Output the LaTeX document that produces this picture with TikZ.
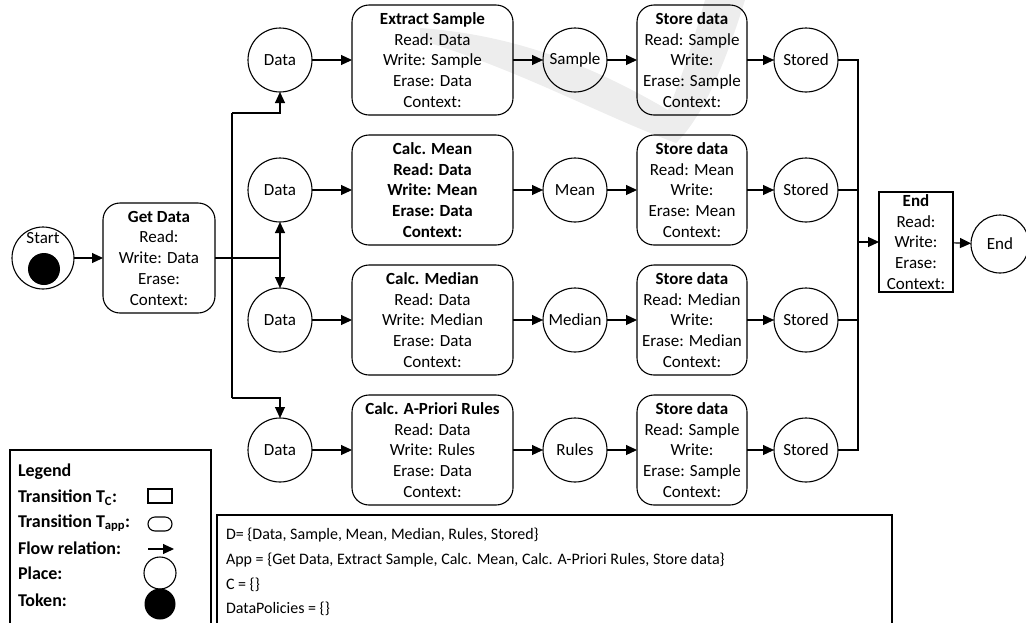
\documentclass[tikz,border=0pt]{standalone}
\usepackage{fontspec}
\setmainfont{Carlito}
\usetikzlibrary{arrows.meta}
\begin{document}
\begin{tikzpicture}[x=1pt,y=-1pt,
  line width=1.1pt,
  every node/.style={font=\fontsize{17}{20.75}\selectfont, inner sep=0pt, outer sep=0pt},
  place/.style={draw, circle, minimum size=64pt},
  tapp/.style={draw, rounded corners=17pt, align=center, minimum height=110pt},
  tc/.style={draw, align=center, minimum height=100pt, minimum width=74pt},
  flow/.style={-{Triangle[length=11pt,width=10pt]}},
  legtxt/.style={anchor=west, font=\fontsize{18}{20}\selectfont\bfseries},
  deftxt/.style={anchor=west, font=\fontsize{16}{19}\selectfont}
]
\useasboundingbox (0,0) rectangle (1026,622);
% watermark
\fill[black!7] (420,28) .. controls (520,35) and (600,70) .. (668,110) .. controls (683,75) and (695,35) .. (705,0) -- (745,0) .. controls (728,55) and (705,115) .. (676,143) .. controls (600,115) and (520,70) .. (420,40) -- cycle;

% start
\node[place, minimum size=62pt] (start) at (43,258) {};
\node (starttxt) at (43,238) {Start};
\node[circle, fill, minimum size=32pt] (token) at (44,269) {};
\node[tapp, minimum width=112pt] (get) at (159,258) {\textbf{Get Data}\\Read:\\Write: Data\\Erase:\\Context:};

% rows
\node[place] (d1) at (280,60) {Data};
\node[place] (d2) at (280,190) {Data};
\node[place] (d3) at (280,320) {Data};
\node[place] (d4) at (280,450) {Data};

\node[tapp, minimum width=161pt] (c1) at (432.5,60) {\textbf{Extract Sample}\\Read: Data\\Write: Sample\\Erase: Data\\Context:};
\node[tapp, minimum width=161pt] (c2) at (432.5,190) {\textbf{Calc. Mean}\\\textbf{Read: Data}\\\textbf{Write: Mean}\\\textbf{Erase: Data}\\\textbf{Context:}};
\node[tapp, minimum width=161pt] (c3) at (432.5,320) {\textbf{Calc. Median}\\Read: Data\\Write: Median\\Erase: Data\\Context:};
\node[tapp, minimum width=161pt] (c4) at (432.5,450) {\textbf{Calc. A-Priori Rules}\\Read: Data\\Write: Rules\\Erase: Data\\Context:};

\node[place] (m1) at (575,60) {Sample};
\node[place] (m2) at (575,190) {Mean};
\node[place] (m3) at (575,320) {Median};
\node[place] (m4) at (575,450) {Rules};

\node[tapp, minimum width=110pt] (s1) at (692,60) {\textbf{Store data}\\Read: Sample\\Write:\\Erase: Sample\\Context:};
\node[tapp, minimum width=110pt] (s2) at (692,190) {\textbf{Store data}\\Read: Mean\\Write:\\Erase: Mean\\Context:};
\node[tapp, minimum width=110pt] (s3) at (692,320) {\textbf{Store data}\\Read: Median\\Write:\\Erase: Median\\Context:};
\node[tapp, minimum width=110pt] (s4) at (692,450) {\textbf{Store data}\\Read: Sample\\Write:\\Erase: Sample\\Context:};

\node[place] (st1) at (806,60) {Stored};
\node[place] (st2) at (806,190) {Stored};
\node[place] (st3) at (806,320) {Stored};
\node[place] (st4) at (806,450) {Stored};

\node[tc] (endbox) at (916,242) {\textbf{End}\\Read:\\Write:\\Erase:\\Context:};
\node[place, minimum size=58pt] (endp) at (1000,244) {End};

% connectors
\draw[flow] (start) -- (get);
\coordinate (j) at (280,258);
\draw (get.east) -- (j);
\draw[flow] (j) -- (d2);
\draw[flow] (j) -- (d3);
\coordinate (t) at (232,113);
\coordinate (t2) at (280,113);
\coordinate (b) at (232,398);
\coordinate (b2) at (280,398);
\draw (t) -- (b);
\draw[flow] (t) -- (t2) -- (d1);
\draw[flow] (b) -- (b2) -- (d4);

\foreach \i in {1,2,3,4}{
  \draw[flow] (d\i) -- (c\i);
  \draw[flow] (c\i) -- (m\i);
  \draw[flow] (m\i) -- (s\i);
  \draw[flow] (s\i) -- (st\i);
}
\coordinate (r1) at (858,60);
\coordinate (r2) at (858,190);
\coordinate (r3) at (858,320);
\coordinate (r4) at (858,450);
\coordinate (rj) at (858,242);
\draw (st1) -- (r1) -- (r4) -- (st4);
\draw (st2) -- (r2);
\draw (st3) -- (r3);
\draw[flow] (rj) -- (endbox);
\draw[flow] (endbox) -- (endp);

% legend
\node[draw, anchor=north west, minimum width=201pt, minimum height=190pt] (legend) at (10,450) {};
\node[legtxt] (lg0) at (18,472) {Legend};
\node[legtxt] (lg1) at (18,498) {Transition T\textsubscript{C}:};
\node[legtxt] (lg2) at (18,523) {Transition T\textsubscript{app}:};
\node[legtxt] (lg3) at (18,548) {Flow relation:};
\node[legtxt] (lg4) at (18,573) {Place:};
\node[legtxt] (lg5) at (18,600) {Token:};
\node[draw, minimum width=24pt, minimum height=14pt] (lgtc) at (160,496) {};
\node[draw, rounded corners=7pt, minimum width=24pt, minimum height=14pt] (lgta) at (160,524) {};
\coordinate (la1) at (148,549);
\coordinate (la2) at (174,549);
\draw[flow] (la1) -- (la2);
\node[draw, circle, minimum size=32pt] (lgp) at (160,573) {};
\node[fill, circle, minimum size=31pt] (lgk) at (160,604) {};

% definitions
\node[draw, anchor=north west, minimum width=675pt, minimum height=130pt] (defs) at (217,515) {};
\node[deftxt] (df1) at (226,535) {D= \{Data, Sample, Mean, Median, Rules, Stored\}};
\node[deftxt] (df2) at (226,560) {App = \{Get Data, Extract Sample, Calc. Mean, Calc. A-Priori Rules, Store data\}};
\node[deftxt] (df3) at (226,585) {C = \{\}};
\node[deftxt] (df4) at (226,609) {DataPolicies = \{\}};
\end{tikzpicture}
\end{document}
